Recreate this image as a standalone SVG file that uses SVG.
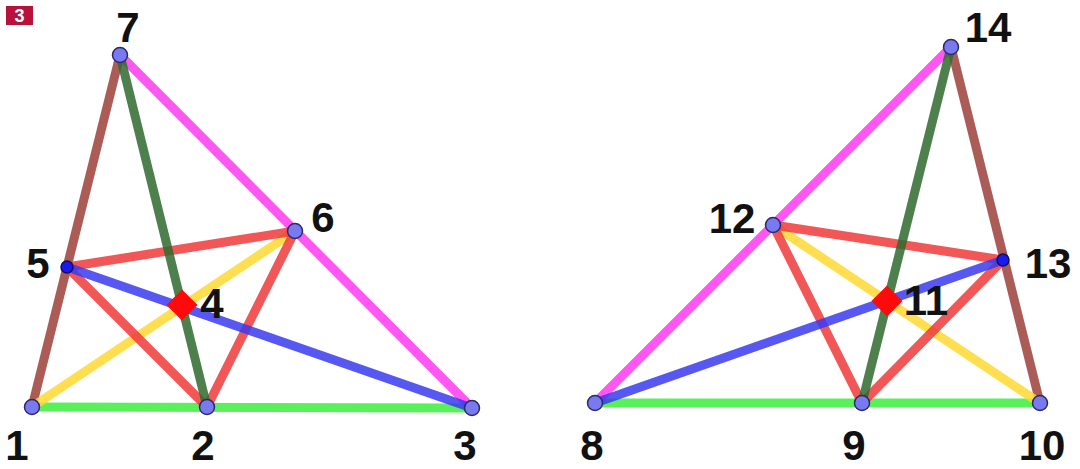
<svg xmlns="http://www.w3.org/2000/svg" width="1080" height="469" viewBox="0 0 1080 469">
<style>
.e{stroke-width:9;stroke-linecap:round;fill:none;stroke-opacity:0.85}
.brown{stroke:#9c3f3a}
.dgreen{stroke:#2f6a2f}
.mag{stroke:#ff3af0}
.green{stroke:#3cee3c}
.red{stroke:#f03a3a}
.yel{stroke:#ffd830}
.blue{stroke:#3a3af0}
.n{fill:#7a7af0;stroke:#2a2a6a;stroke-width:1.5}
.nd{fill:#1a1af0;stroke:#10105a;stroke-width:1.5}
.c{fill:#ff0a0a}
.t{font-family:"Liberation Sans",Arial,sans-serif;font-weight:bold;font-size:42px;fill:#111;text-anchor:middle}
</style>
<rect width="1080" height="469" fill="#ffffff"/>
<g id="badge">
<rect x="6" y="6" width="27" height="19" fill="#b8123c"/>
<text x="19.5" y="22" font-family="Liberation Sans, Arial, sans-serif" font-weight="bold" font-size="18" fill="#fff" text-anchor="middle">3</text>
</g>
<g id="connectors">
<line class="e green" x1="32" y1="407" x2="472" y2="408"/>
<line class="e brown" x1="32" y1="407" x2="120" y2="55"/>
<line class="e mag" x1="120" y1="55" x2="472" y2="408"/>
<line class="e yel" x1="32" y1="407" x2="295" y2="231"/>
<line class="e red" x1="67" y1="267" x2="295" y2="231"/>
<line class="e red" x1="67" y1="267" x2="207" y2="407"/>
<line class="e red" x1="207" y1="407" x2="295" y2="231"/>
<line class="e blue" x1="67" y1="267" x2="472" y2="408"/>
<line class="e dgreen" x1="120" y1="55" x2="207" y2="407"/>

<line class="e green" x1="595" y1="403" x2="1040" y2="403"/>
<line class="e mag" x1="595" y1="403" x2="951" y2="47"/>
<line class="e brown" x1="951" y1="47" x2="1040" y2="403"/>
<line class="e yel" x1="773" y1="225" x2="1040" y2="403"/>
<line class="e red" x1="773" y1="225" x2="1003" y2="260"/>
<line class="e red" x1="773" y1="225" x2="862" y2="403"/>
<line class="e red" x1="862" y1="403" x2="1003" y2="260"/>
<line class="e blue" x1="595" y1="403" x2="1003" y2="260"/>
<line class="e dgreen" x1="951" y1="47" x2="862" y2="403"/>
</g>
<g id="node-1"><circle class="n" cx="32" cy="407" r="7.5"/><text class="t" x="17" y="460">1</text></g>
<g id="node-2"><circle class="n" cx="207" cy="407" r="7.5"/><text class="t" x="203" y="460">2</text></g>
<g id="node-3"><circle class="n" cx="472" cy="408" r="7.5"/><text class="t" x="465" y="460">3</text></g>
<g id="node-4"><rect class="c" x="171" y="294" width="22" height="22" transform="rotate(45 182 305)"/><text class="t" x="212" y="318">4</text></g>
<g id="node-5"><circle class="nd" cx="67" cy="267" r="6"/><text class="t" x="38" y="278">5</text></g>
<g id="node-6"><circle class="n" cx="295" cy="231" r="7.5"/><text class="t" x="323" y="232">6</text></g>
<g id="node-7"><circle class="n" cx="120" cy="55" r="7.5"/><text class="t" x="128" y="42">7</text></g>
<g id="node-8"><circle class="n" cx="595" cy="403" r="7.5"/><text class="t" x="592" y="460">8</text></g>
<g id="node-9"><circle class="n" cx="862" cy="403" r="7.5"/><text class="t" x="854" y="460">9</text></g>
<g id="node-10"><circle class="n" cx="1040" cy="403" r="7.5"/><text class="t" x="1042" y="460">10</text></g>
<g id="node-11"><rect class="c" x="876" y="290" width="22" height="22" transform="rotate(45 887 301)"/><text class="t" x="926" y="315">11</text></g>
<g id="node-12"><circle class="n" cx="773" cy="225" r="7.5"/><text class="t" x="732" y="233">12</text></g>
<g id="node-13"><circle class="nd" cx="1003" cy="260" r="6"/><text class="t" x="1048" y="278">13</text></g>
<g id="node-14"><circle class="n" cx="951" cy="47" r="7.5"/><text class="t" x="988" y="42">14</text></g>
</svg>
